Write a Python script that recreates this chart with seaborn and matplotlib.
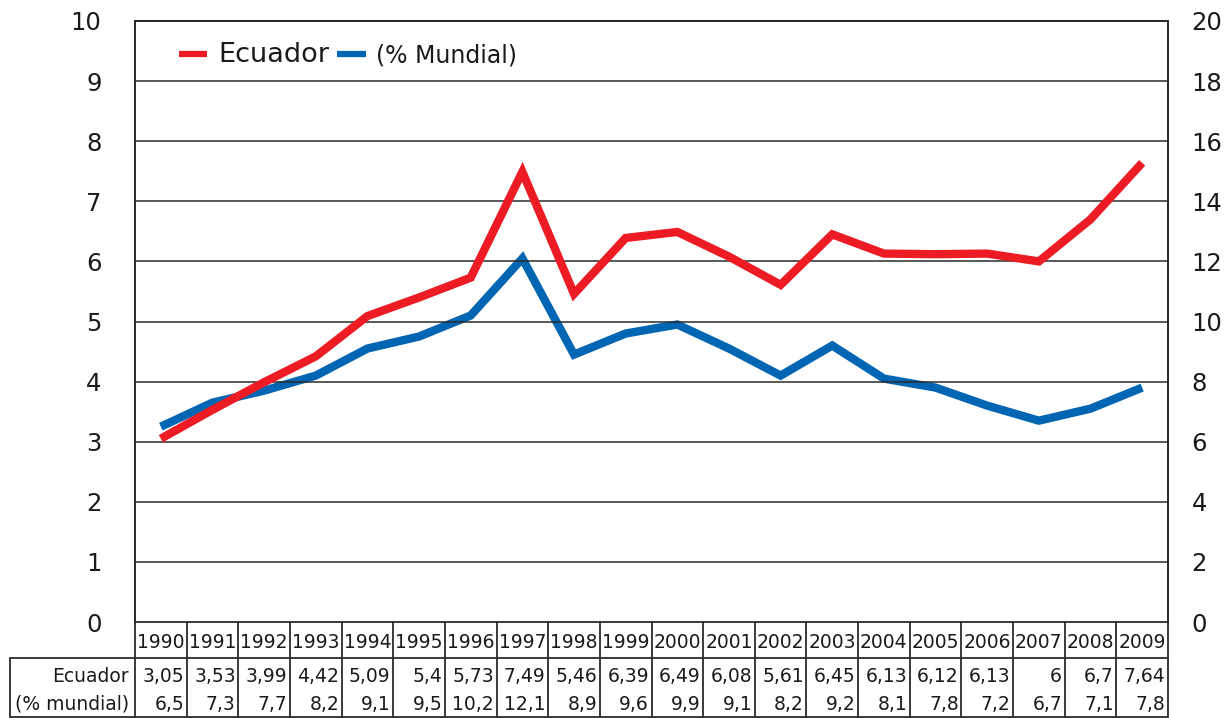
import seaborn as sns
import matplotlib.pyplot as plt
import pandas as pd

years = [1990, 1991, 1992, 1993, 1994, 1995, 1996, 1997, 1998, 1999,
         2000, 2001, 2002, 2003, 2004, 2005, 2006, 2007, 2008, 2009]
ecuador = [3.05, 3.53, 3.99, 4.42, 5.09, 5.4, 5.73, 7.49, 5.46, 6.39,
           6.49, 6.08, 5.61, 6.45, 6.13, 6.12, 6.13, 6.0, 6.7, 7.64]
mundial = [6.5, 7.3, 7.7, 8.2, 9.1, 9.5, 10.2, 12.1, 8.9, 9.6,
           9.9, 9.1, 8.2, 9.2, 8.1, 7.8, 7.2, 6.7, 7.1, 7.8]
ecuador_lbl = ["3,05", "3,53", "3,99", "4,42", "5,09", "5,4", "5,73", "7,49", "5,46", "6,39",
               "6,49", "6,08", "5,61", "6,45", "6,13", "6,12", "6,13", "6", "6,7", "7,64"]
mundial_lbl = ["6,5", "7,3", "7,7", "8,2", "9,1", "9,5", "10,2", "12,1", "8,9", "9,6",
               "9,9", "9,1", "8,2", "9,2", "8,1", "7,8", "7,2", "6,7", "7,1", "7,8"]

RED = "#ED1C24"
BLUE = "#0066B3"
GRID = "#2b2b2b"
TXT = "#1a1a1a"

sns.set_theme(style="white")
plt.rcParams["font.family"] = ["DejaVu Sans"]

df = pd.DataFrame({"pos": range(len(years)), "year": years,
                   "ecuador": ecuador, "mundial": mundial})

fig = plt.figure(figsize=(12.32, 7.18), dpi=100)
ax = fig.add_axes([135 / 1232, 1 - 622 / 718, 1033 / 1232, 601 / 718])
ax2 = ax.twinx()

sns.lineplot(data=df, x="pos", y="ecuador", ax=ax, color=RED, lw=6, label="Ecuador",
             legend=False, solid_joinstyle="miter", solid_capstyle="butt")
sns.lineplot(data=df, x="pos", y="mundial", ax=ax2, color=BLUE, lw=6, label="(% Mundial)",
             legend=False, solid_joinstyle="miter", solid_capstyle="butt")
ax.set_zorder(ax2.get_zorder() + 1)
ax.patch.set_visible(False)

ax.set_xlim(-0.5, len(years) - 0.5)
ax.set_ylim(0, 10)
ax2.set_ylim(0, 20)
ax.set_yticks(range(0, 11))
ax2.set_yticks(range(0, 21, 2))
ax.set_xticks([])
ax.set_xlabel("")
ax.set_ylabel("")
ax2.set_ylabel("")
for y in range(1, 11):
    ax.axhline(y, color=GRID, lw=1.1, zorder=0)

ax.tick_params(axis="y", length=0, pad=24, labelsize=17.5, labelcolor=TXT)
ax2.tick_params(axis="y", length=0, pad=17, labelsize=17.5, labelcolor=TXT)
for a in (ax, ax2):
    a.spines["bottom"].set_visible(False)
    for s in ("left", "right", "top"):
        a.spines[s].set_color(GRID)
        a.spines[s].set_linewidth(1.3)

# leyenda
h1, l1 = ax.get_legend_handles_labels()
h2, l2 = ax2.get_legend_handles_labels()
leg = ax.legend(h1 + h2, l1 + l2, loc="upper left", bbox_to_anchor=(0.022, 1.0), ncol=2,
                frameon=False, handlelength=1.2, handletextpad=0.45, columnspacing=0.35,
                fontsize=17)
leg.get_texts()[0].set_fontsize(19.5)
for t in leg.get_texts():
    t.set_color(TXT)
for h in leg.get_lines():
    h.set_linewidth(4.5)
    h.set_solid_capstyle("butt")

# tabla de datos debajo del grafico
tr = ax.get_xaxis_transform()
px = 1 / 601  # un pixel en coordenadas de eje
row_top = 0
row_hdr = -36 * px
row_end = -95 * px
left_edge = -0.5 - 125 / 51.65
lk = dict(transform=tr, clip_on=False, color=GRID, lw=1.3)

ax.plot([-0.5, len(years) - 0.5], [0, 0], **lk)
ax.plot([left_edge, len(years) - 0.5], [row_hdr, row_hdr], **lk)
ax.plot([left_edge, len(years) - 0.5], [row_end, row_end], **lk)
ax.plot([left_edge, left_edge], [row_hdr, row_end], **lk)
for k in range(len(years) + 1):
    ax.plot([k - 0.5, k - 0.5], [row_top, row_end], **lk)

tk = dict(transform=tr, clip_on=False, fontsize=13.5, color=TXT, va="center")
for i, yr in enumerate(years):
    ax.text(i, -21 * px, str(yr), ha="center", **tk)
    ax.text(i + 0.45, -55 * px, ecuador_lbl[i], ha="right", **tk)
    ax.text(i + 0.45, -82 * px, mundial_lbl[i], ha="right", **tk)
ax.text(-0.62, -55 * px, "Ecuador", ha="right", **tk)
ax.text(-0.62, -82 * px, "(% mundial)", ha="right", **tk)

fig.savefig("out.png", dpi=100)
